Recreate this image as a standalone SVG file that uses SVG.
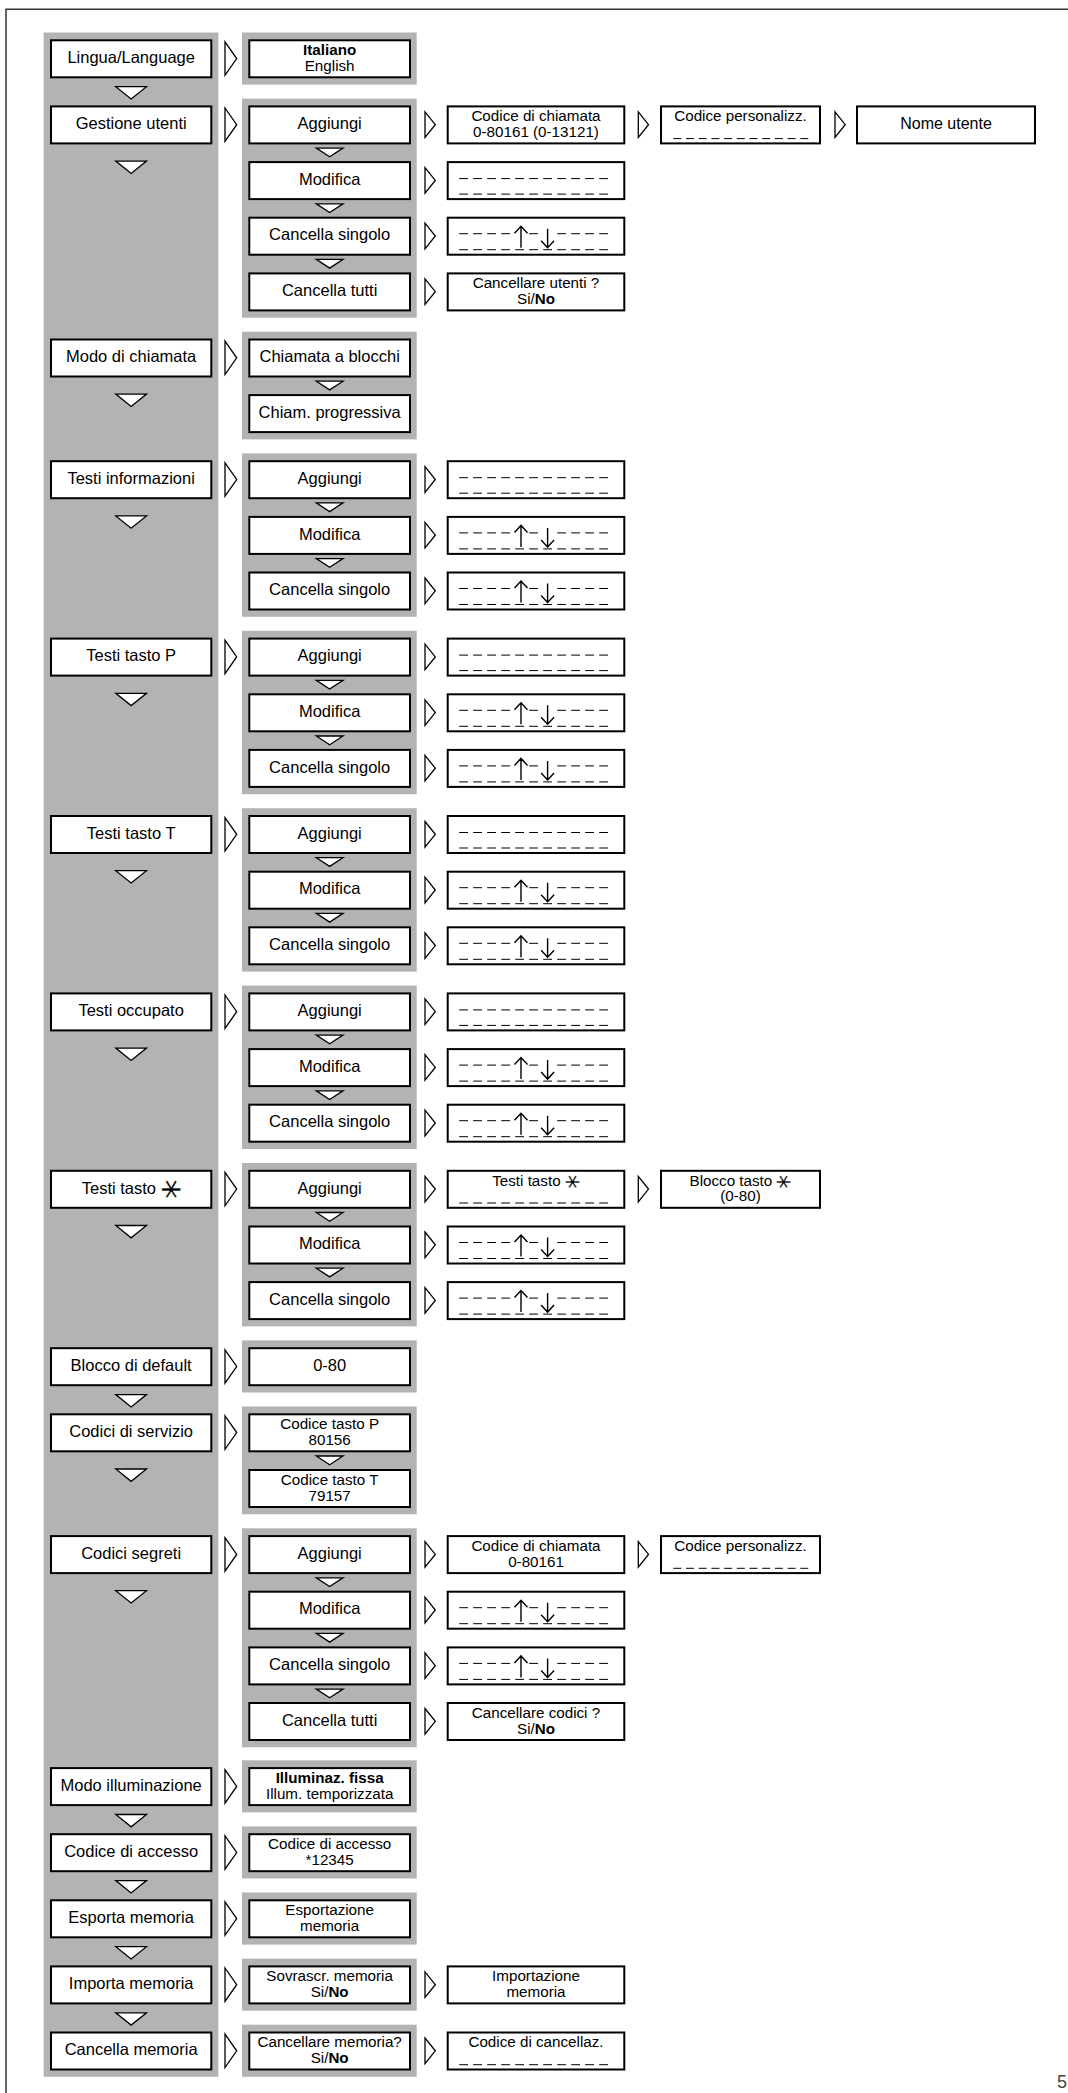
<svg xmlns="http://www.w3.org/2000/svg" width="1068" height="2093" viewBox="0 0 1068 2093">
<style>
.p{fill:#b3b3b3}
.bx{fill:#fff;stroke:#000;stroke-width:2}
.t{font-family:"Liberation Sans",Arial,"DejaVu Sans",sans-serif;font-size:16.5px;text-anchor:middle;fill:#000}
.s{font-size:15.2px}
.b{font-weight:bold}
.st{font-family:"DejaVu Sans",sans-serif;font-size:34px;stroke:#fff;stroke-width:0.6px}
.st2{font-family:"DejaVu Sans",sans-serif;font-size:25px;stroke:#fff;stroke-width:0.4px}
.tr{fill:#fff;stroke:#000;stroke-width:1.3;stroke-linejoin:miter}
.d{stroke:#000;stroke-width:1;stroke-dasharray:8.8 5.2;fill:none}
.d4{stroke:#000;stroke-width:1;stroke-dasharray:8 4.7;fill:none}
.da{stroke:#000;stroke-width:1;fill:none;stroke-dasharray:8.8 5.2 8.8 5.2 8.8 5.2 8.8 19.2 8.8 19.2 8.8 5.2 8.8 5.2 8.8 5.2 8.8 100}
.arw{fill:none;stroke:#000;stroke-width:1.4;stroke-linecap:butt;stroke-linejoin:miter}
.fr{fill:none;stroke:#333;stroke-width:1.5}
</style>
<defs>
<g id="dash2"><line class="d" x1="12.5" y1="17.5" x2="161.3" y2="17.5"/><line class="d" x1="12.5" y1="33" x2="161.3" y2="33"/></g>
<g id="updn"><line class="da" x1="12.5" y1="17" x2="161.3" y2="17"/><line class="d" x1="12.5" y1="33" x2="161.3" y2="33"/><path class="arw" d="M74.3 31 V9.5 M67.8 16.5 L74.3 9.5 L80.8 16.5 M100.9 12 V31 M94.4 24 L100.9 31 L107.4 24"/></g>
</defs>
<rect width="1068" height="2093" fill="#fff"/>
<path class="fr" d="M6 2093 V9.3 H1068"/>
<g id="panels">
<rect class="p" x="43.7" y="32.5" width="174.6" height="2044.3"/>
<rect class="p" x="242" y="32.5" width="174.7" height="52.1"/>
<rect class="p" x="242" y="98.6" width="174.7" height="219.1"/>
<rect class="p" x="242" y="331.7" width="174.7" height="107.7"/>
<rect class="p" x="242" y="453.4" width="174.7" height="163.4"/>
<rect class="p" x="242" y="630.8" width="174.7" height="163.4"/>
<rect class="p" x="242" y="808.2" width="174.7" height="163.4"/>
<rect class="p" x="242" y="985.6" width="174.7" height="163.4"/>
<rect class="p" x="242" y="1163.0" width="174.7" height="163.4"/>
<rect class="p" x="242" y="1340.4" width="174.7" height="52.1"/>
<rect class="p" x="242" y="1406.5" width="174.7" height="107.8"/>
<rect class="p" x="242" y="1528.3" width="174.7" height="219.0"/>
<rect class="p" x="242" y="1760.3" width="174.7" height="52.1"/>
<rect class="p" x="242" y="1826.4" width="174.7" height="52.1"/>
<rect class="p" x="242" y="1892.5" width="174.7" height="52.1"/>
<rect class="p" x="242" y="1958.6" width="174.7" height="52.1"/>
<rect class="p" x="242" y="2024.7" width="174.7" height="52.1"/>
</g>
<g id="connectors">
<polygon class="tr" points="225,41.9 236.7,58.6 225,75.3"/>
<polygon class="tr" points="225,108.0 236.7,124.7 225,141.4"/>
<polygon class="tr" points="225,341.1 236.7,357.8 225,374.5"/>
<polygon class="tr" points="225,462.8 236.7,479.5 225,496.2"/>
<polygon class="tr" points="225,640.2 236.7,656.9 225,673.6"/>
<polygon class="tr" points="225,817.6 236.7,834.3 225,851.0"/>
<polygon class="tr" points="225,995.0 236.7,1011.7 225,1028.4"/>
<polygon class="tr" points="225,1172.4 236.7,1189.1 225,1205.8"/>
<polygon class="tr" points="225,1349.8 236.7,1366.5 225,1383.2"/>
<polygon class="tr" points="225,1415.9 236.7,1432.6 225,1449.3"/>
<polygon class="tr" points="225,1537.7 236.7,1554.4 225,1571.1"/>
<polygon class="tr" points="225,1769.7 236.7,1786.4 225,1803.1"/>
<polygon class="tr" points="225,1835.8 236.7,1852.5 225,1869.2"/>
<polygon class="tr" points="225,1901.9 236.7,1918.6 225,1935.3"/>
<polygon class="tr" points="225,1968.0 236.7,1984.7 225,2001.4"/>
<polygon class="tr" points="225,2034.1 236.7,2050.8 225,2067.5"/>
<polygon class="tr" points="425,111.9 435.3,124.7 425,137.5"/>
<polygon class="tr" points="425,167.6 435.3,180.4 425,193.2"/>
<polygon class="tr" points="425,223.2 435.3,236.0 425,248.8"/>
<polygon class="tr" points="425,278.9 435.3,291.7 425,304.5"/>
<polygon class="tr" points="425,466.7 435.3,479.5 425,492.3"/>
<polygon class="tr" points="425,522.4 435.3,535.2 425,548.0"/>
<polygon class="tr" points="425,578.0 435.3,590.8 425,603.6"/>
<polygon class="tr" points="425,644.1 435.3,656.9 425,669.7"/>
<polygon class="tr" points="425,699.8 435.3,712.6 425,725.4"/>
<polygon class="tr" points="425,755.4 435.3,768.2 425,781.0"/>
<polygon class="tr" points="425,821.5 435.3,834.3 425,847.1"/>
<polygon class="tr" points="425,877.2 435.3,890.0 425,902.8"/>
<polygon class="tr" points="425,932.8 435.3,945.6 425,958.4"/>
<polygon class="tr" points="425,998.9 435.3,1011.7 425,1024.5"/>
<polygon class="tr" points="425,1054.6 435.3,1067.4 425,1080.2"/>
<polygon class="tr" points="425,1110.2 435.3,1123.0 425,1135.8"/>
<polygon class="tr" points="425,1176.3 435.3,1189.1 425,1201.9"/>
<polygon class="tr" points="425,1232.0 435.3,1244.8 425,1257.6"/>
<polygon class="tr" points="425,1287.6 435.3,1300.4 425,1313.2"/>
<polygon class="tr" points="425,1541.6 435.3,1554.4 425,1567.2"/>
<polygon class="tr" points="425,1597.2 435.3,1610.0 425,1622.8"/>
<polygon class="tr" points="425,1652.9 435.3,1665.7 425,1678.5"/>
<polygon class="tr" points="425,1708.5 435.3,1721.3 425,1734.1"/>
<polygon class="tr" points="425,1971.9 435.3,1984.7 425,1997.5"/>
<polygon class="tr" points="425,2038.0 435.3,2050.8 425,2063.6"/>
<polygon class="tr" points="638.3,111.9 648.5,124.7 638.3,137.5"/>
<polygon class="tr" points="835,111.9 845.2,124.7 835,137.5"/>
<polygon class="tr" points="638.3,1176.3 648.5,1189.1 638.3,1201.9"/>
<polygon class="tr" points="638.3,1541.6 648.5,1554.4 638.3,1567.2"/>
<polygon class="tr" points="115.8,86.7 146.5,86.7 131.15,99.0"/>
<polygon class="tr" points="115.8,161.1 146.5,161.1 131.15,173.4"/>
<polygon class="tr" points="115.8,394.1 146.5,394.1 131.15,406.4"/>
<polygon class="tr" points="115.8,515.9 146.5,515.9 131.15,528.2"/>
<polygon class="tr" points="115.8,693.3 146.5,693.3 131.15,705.6"/>
<polygon class="tr" points="115.8,870.7 146.5,870.7 131.15,883.0"/>
<polygon class="tr" points="115.8,1048.1 146.5,1048.1 131.15,1060.4"/>
<polygon class="tr" points="115.8,1225.5 146.5,1225.5 131.15,1237.8"/>
<polygon class="tr" points="115.8,1394.6 146.5,1394.6 131.15,1406.9"/>
<polygon class="tr" points="115.8,1469.0 146.5,1469.0 131.15,1481.3"/>
<polygon class="tr" points="115.8,1590.7 146.5,1590.7 131.15,1603.0"/>
<polygon class="tr" points="115.8,1814.5 146.5,1814.5 131.15,1826.8"/>
<polygon class="tr" points="115.8,1880.6 146.5,1880.6 131.15,1892.9"/>
<polygon class="tr" points="115.8,1946.7 146.5,1946.7 131.15,1959.0"/>
<polygon class="tr" points="115.8,2012.8 146.5,2012.8 131.15,2025.1"/>
<polygon class="tr" points="316.3,148.1 343,148.1 329.65,156.8"/>
<polygon class="tr" points="316.3,203.8 343,203.8 329.65,212.5"/>
<polygon class="tr" points="316.3,259.4 343,259.4 329.65,268.1"/>
<polygon class="tr" points="316.3,381.2 343,381.2 329.65,389.9"/>
<polygon class="tr" points="316.3,502.9 343,502.9 329.65,511.6"/>
<polygon class="tr" points="316.3,558.6 343,558.6 329.65,567.3"/>
<polygon class="tr" points="316.3,680.3 343,680.3 329.65,689.0"/>
<polygon class="tr" points="316.3,736.0 343,736.0 329.65,744.7"/>
<polygon class="tr" points="316.3,857.7 343,857.7 329.65,866.4"/>
<polygon class="tr" points="316.3,913.4 343,913.4 329.65,922.1"/>
<polygon class="tr" points="316.3,1035.1 343,1035.1 329.65,1043.8"/>
<polygon class="tr" points="316.3,1090.8 343,1090.8 329.65,1099.5"/>
<polygon class="tr" points="316.3,1212.5 343,1212.5 329.65,1221.2"/>
<polygon class="tr" points="316.3,1268.2 343,1268.2 329.65,1276.9"/>
<polygon class="tr" points="316.3,1456.0 343,1456.0 329.65,1464.7"/>
<polygon class="tr" points="316.3,1577.8 343,1577.8 329.65,1586.5"/>
<polygon class="tr" points="316.3,1633.4 343,1633.4 329.65,1642.1"/>
<polygon class="tr" points="316.3,1689.1 343,1689.1 329.65,1697.8"/>
</g>
<g id="m-lingua"><rect class="bx" x="51" y="40.3" width="160.3" height="37"/><text class="t" x="131.15" y="63.0">Lingua/Language</text></g>
<g id="m-gestione"><rect class="bx" x="51" y="106.4" width="160.3" height="37"/><text class="t" x="131.15" y="129.1">Gestione utenti</text></g>
<g id="m-modo"><rect class="bx" x="51" y="339.5" width="160.3" height="37"/><text class="t" x="131.15" y="362.2">Modo di chiamata</text></g>
<g id="m-testi-info"><rect class="bx" x="51" y="461.2" width="160.3" height="37"/><text class="t" x="131.15" y="483.9">Testi informazioni</text></g>
<g id="m-testi-p"><rect class="bx" x="51" y="638.6" width="160.3" height="37"/><text class="t" x="131.15" y="661.3">Testi tasto P</text></g>
<g id="m-testi-t"><rect class="bx" x="51" y="816.0" width="160.3" height="37"/><text class="t" x="131.15" y="838.7">Testi tasto T</text></g>
<g id="m-testi-occ"><rect class="bx" x="51" y="993.4" width="160.3" height="37"/><text class="t" x="131.15" y="1016.1">Testi occupato</text></g>
<g id="m-testi-star"><rect class="bx" x="51" y="1170.8" width="160.3" height="37"/><text class="t" x="131.15" y="1193.5">Testi tasto <tspan class="st" dy="4.5">⚹</tspan></text></g>
<g id="m-blocco"><rect class="bx" x="51" y="1348.2" width="160.3" height="37"/><text class="t" x="131.15" y="1370.9">Blocco di default</text></g>
<g id="m-servizio"><rect class="bx" x="51" y="1414.3" width="160.3" height="37"/><text class="t" x="131.15" y="1437.0">Codici di servizio</text></g>
<g id="m-segreti"><rect class="bx" x="51" y="1536.1" width="160.3" height="37"/><text class="t" x="131.15" y="1558.8">Codici segreti</text></g>
<g id="m-illum"><rect class="bx" x="51" y="1768.1" width="160.3" height="37"/><text class="t" x="131.15" y="1790.8">Modo illuminazione</text></g>
<g id="m-accesso"><rect class="bx" x="51" y="1834.2" width="160.3" height="37"/><text class="t" x="131.15" y="1856.9">Codice di accesso</text></g>
<g id="m-esporta"><rect class="bx" x="51" y="1900.3" width="160.3" height="37"/><text class="t" x="131.15" y="1923.0">Esporta memoria</text></g>
<g id="m-importa"><rect class="bx" x="51" y="1966.4" width="160.3" height="37"/><text class="t" x="131.15" y="1989.1">Importa memoria</text></g>
<g id="m-cancella"><rect class="bx" x="51" y="2032.5" width="160.3" height="37"/><text class="t" x="131.15" y="2055.2">Cancella memoria</text></g>
<g id="s-lingua"><rect class="bx" x="249.3" y="40.3" width="160.7" height="37"/><text class="t s b" x="329.65" y="55.1">Italiano</text><text class="t s" x="329.65" y="70.8">English</text></g>
<g id="s-gest-agg"><rect class="bx" x="249.3" y="106.4" width="160.7" height="37"/><text class="t" x="329.65" y="129.1">Aggiungi</text></g>
<g id="s-gest-mod"><rect class="bx" x="249.3" y="162.1" width="160.7" height="37"/><text class="t" x="329.65" y="184.8">Modifica</text></g>
<g id="s-gest-cs"><rect class="bx" x="249.3" y="217.7" width="160.7" height="37"/><text class="t" x="329.65" y="240.4">Cancella singolo</text></g>
<g id="s-gest-ct"><rect class="bx" x="249.3" y="273.4" width="160.7" height="37"/><text class="t" x="329.65" y="296.1">Cancella tutti</text></g>
<g id="s-modo-bl"><rect class="bx" x="249.3" y="339.5" width="160.7" height="37"/><text class="t" x="329.65" y="362.2">Chiamata a blocchi</text></g>
<g id="s-modo-pr"><rect class="bx" x="249.3" y="395.1" width="160.7" height="37"/><text class="t" x="329.65" y="417.8">Chiam. progressiva</text></g>
<g id="s-info-agg"><rect class="bx" x="249.3" y="461.2" width="160.7" height="37"/><text class="t" x="329.65" y="483.9">Aggiungi</text></g>
<g id="s-info-mod"><rect class="bx" x="249.3" y="516.9" width="160.7" height="37"/><text class="t" x="329.65" y="539.6">Modifica</text></g>
<g id="s-info-cs"><rect class="bx" x="249.3" y="572.5" width="160.7" height="37"/><text class="t" x="329.65" y="595.2">Cancella singolo</text></g>
<g id="s-p-agg"><rect class="bx" x="249.3" y="638.6" width="160.7" height="37"/><text class="t" x="329.65" y="661.3">Aggiungi</text></g>
<g id="s-p-mod"><rect class="bx" x="249.3" y="694.3" width="160.7" height="37"/><text class="t" x="329.65" y="717.0">Modifica</text></g>
<g id="s-p-cs"><rect class="bx" x="249.3" y="749.9" width="160.7" height="37"/><text class="t" x="329.65" y="772.6">Cancella singolo</text></g>
<g id="s-t-agg"><rect class="bx" x="249.3" y="816.0" width="160.7" height="37"/><text class="t" x="329.65" y="838.7">Aggiungi</text></g>
<g id="s-t-mod"><rect class="bx" x="249.3" y="871.7" width="160.7" height="37"/><text class="t" x="329.65" y="894.4">Modifica</text></g>
<g id="s-t-cs"><rect class="bx" x="249.3" y="927.3" width="160.7" height="37"/><text class="t" x="329.65" y="950.0">Cancella singolo</text></g>
<g id="s-occ-agg"><rect class="bx" x="249.3" y="993.4" width="160.7" height="37"/><text class="t" x="329.65" y="1016.1">Aggiungi</text></g>
<g id="s-occ-mod"><rect class="bx" x="249.3" y="1049.1" width="160.7" height="37"/><text class="t" x="329.65" y="1071.8">Modifica</text></g>
<g id="s-occ-cs"><rect class="bx" x="249.3" y="1104.7" width="160.7" height="37"/><text class="t" x="329.65" y="1127.4">Cancella singolo</text></g>
<g id="s-star-agg"><rect class="bx" x="249.3" y="1170.8" width="160.7" height="37"/><text class="t" x="329.65" y="1193.5">Aggiungi</text></g>
<g id="s-star-mod"><rect class="bx" x="249.3" y="1226.5" width="160.7" height="37"/><text class="t" x="329.65" y="1249.2">Modifica</text></g>
<g id="s-star-cs"><rect class="bx" x="249.3" y="1282.1" width="160.7" height="37"/><text class="t" x="329.65" y="1304.8">Cancella singolo</text></g>
<g id="s-blocco"><rect class="bx" x="249.3" y="1348.2" width="160.7" height="37"/><text class="t" x="329.65" y="1370.9">0-80</text></g>
<g id="s-serv-p"><rect class="bx" x="249.3" y="1414.3" width="160.7" height="37"/><text class="t s" x="329.65" y="1429.1">Codice tasto P</text><text class="t s" x="329.65" y="1444.8">80156</text></g>
<g id="s-serv-t"><rect class="bx" x="249.3" y="1470.0" width="160.7" height="37"/><text class="t s" x="329.65" y="1484.8">Codice tasto T</text><text class="t s" x="329.65" y="1500.5">79157</text></g>
<g id="s-seg-agg"><rect class="bx" x="249.3" y="1536.1" width="160.7" height="37"/><text class="t" x="329.65" y="1558.8">Aggiungi</text></g>
<g id="s-seg-mod"><rect class="bx" x="249.3" y="1591.7" width="160.7" height="37"/><text class="t" x="329.65" y="1614.4">Modifica</text></g>
<g id="s-seg-cs"><rect class="bx" x="249.3" y="1647.4" width="160.7" height="37"/><text class="t" x="329.65" y="1670.1">Cancella singolo</text></g>
<g id="s-seg-ct"><rect class="bx" x="249.3" y="1703.0" width="160.7" height="37"/><text class="t" x="329.65" y="1725.7">Cancella tutti</text></g>
<g id="s-illum"><rect class="bx" x="249.3" y="1768.1" width="160.7" height="37"/><text class="t s b" x="329.65" y="1782.9">Illuminaz. fissa</text><text class="t s" x="329.65" y="1798.6">Illum. temporizzata</text></g>
<g id="s-accesso"><rect class="bx" x="249.3" y="1834.2" width="160.7" height="37"/><text class="t s" x="329.65" y="1849.0">Codice di accesso</text><text class="t s" x="329.65" y="1864.7">*12345</text></g>
<g id="s-esporta"><rect class="bx" x="249.3" y="1900.3" width="160.7" height="37"/><text class="t s" x="329.65" y="1915.1">Esportazione</text><text class="t s" x="329.65" y="1930.8">memoria</text></g>
<g id="s-importa"><rect class="bx" x="249.3" y="1966.4" width="160.7" height="37"/><text class="t s" x="329.65" y="1981.2">Sovrascr. memoria</text><text class="t s" x="329.65" y="1996.9">Si/<tspan class="b">No</tspan></text></g>
<g id="s-cancella"><rect class="bx" x="249.3" y="2032.5" width="160.7" height="37"/><text class="t s" x="329.65" y="2047.3">Cancellare memoria?</text><text class="t s" x="329.65" y="2063.0">Si/<tspan class="b">No</tspan></text></g>
<g id="c-gest-codice"><rect class="bx" x="447.7" y="106.4" width="176.6" height="37"/><text class="t s" x="536" y="121.2">Codice di chiamata</text><text class="t s" x="536" y="136.9">0-80161 (0-13121)</text></g>
<g id="c-gest-pers"><rect class="bx" x="661" y="106.4" width="159" height="37"/><text class="t s" x="740.5" y="121.2">Codice personalizz.</text><line class="d4" x1="673.3" y1="138.6" x2="808.3" y2="138.6"/></g>
<g id="c-gest-nome"><rect class="bx" x="857" y="106.4" width="178" height="37"/><text class="t" x="946" y="129.1" style="font-size:16px">Nome utente</text></g>
<g id="c-gest-mod"><rect class="bx" x="447.7" y="162.1" width="176.6" height="37"/><use href="#dash2" x="446.7" y="161.1"/></g>
<g id="c-gest-cs"><rect class="bx" x="447.7" y="217.7" width="176.6" height="37"/><use href="#updn" x="446.7" y="216.7"/></g>
<g id="c-gest-ct"><rect class="bx" x="447.7" y="273.4" width="176.6" height="37"/><text class="t s" x="536" y="288.2">Cancellare utenti ?</text><text class="t s" x="536" y="303.9">Si/<tspan class="b">No</tspan></text></g>
<g id="c-info-agg"><rect class="bx" x="447.7" y="461.2" width="176.6" height="37"/><use href="#dash2" x="446.7" y="460.2"/></g>
<g id="c-info-mod"><rect class="bx" x="447.7" y="516.9" width="176.6" height="37"/><use href="#updn" x="446.7" y="515.9"/></g>
<g id="c-info-cs"><rect class="bx" x="447.7" y="572.5" width="176.6" height="37"/><use href="#updn" x="446.7" y="571.5"/></g>
<g id="c-p-agg"><rect class="bx" x="447.7" y="638.6" width="176.6" height="37"/><use href="#dash2" x="446.7" y="637.6"/></g>
<g id="c-p-mod"><rect class="bx" x="447.7" y="694.3" width="176.6" height="37"/><use href="#updn" x="446.7" y="693.3"/></g>
<g id="c-p-cs"><rect class="bx" x="447.7" y="749.9" width="176.6" height="37"/><use href="#updn" x="446.7" y="748.9"/></g>
<g id="c-t-agg"><rect class="bx" x="447.7" y="816.0" width="176.6" height="37"/><use href="#dash2" x="446.7" y="815.0"/></g>
<g id="c-t-mod"><rect class="bx" x="447.7" y="871.7" width="176.6" height="37"/><use href="#updn" x="446.7" y="870.7"/></g>
<g id="c-t-cs"><rect class="bx" x="447.7" y="927.3" width="176.6" height="37"/><use href="#updn" x="446.7" y="926.3"/></g>
<g id="c-occ-agg"><rect class="bx" x="447.7" y="993.4" width="176.6" height="37"/><use href="#dash2" x="446.7" y="992.4"/></g>
<g id="c-occ-mod"><rect class="bx" x="447.7" y="1049.1" width="176.6" height="37"/><use href="#updn" x="446.7" y="1048.1"/></g>
<g id="c-occ-cs"><rect class="bx" x="447.7" y="1104.7" width="176.6" height="37"/><use href="#updn" x="446.7" y="1103.7"/></g>
<g id="c-star-agg"><rect class="bx" x="447.7" y="1170.8" width="176.6" height="37"/><text class="t s" x="536" y="1185.6">Testi tasto <tspan class="st2" dy="2">⚹</tspan></text><line class="d" x1="459.2" y1="1203.0" x2="608" y2="1203.0"/></g>
<g id="c-star-blocco"><rect class="bx" x="661" y="1170.8" width="159" height="37"/><text class="t s" x="740.5" y="1185.6">Blocco tasto <tspan class="st2" dy="2">⚹</tspan></text><text class="t s" x="740.5" y="1201.3">(0-80)</text></g>
<g id="c-star-mod"><rect class="bx" x="447.7" y="1226.5" width="176.6" height="37"/><use href="#updn" x="446.7" y="1225.5"/></g>
<g id="c-star-cs"><rect class="bx" x="447.7" y="1282.1" width="176.6" height="37"/><use href="#updn" x="446.7" y="1281.1"/></g>
<g id="c-seg-codice"><rect class="bx" x="447.7" y="1536.1" width="176.6" height="37"/><text class="t s" x="536" y="1550.9">Codice di chiamata</text><text class="t s" x="536" y="1566.6">0-80161</text></g>
<g id="c-seg-pers"><rect class="bx" x="661" y="1536.1" width="159" height="37"/><text class="t s" x="740.5" y="1550.9">Codice personalizz.</text><line class="d4" x1="673.3" y1="1568.3" x2="808.3" y2="1568.3"/></g>
<g id="c-seg-mod"><rect class="bx" x="447.7" y="1591.7" width="176.6" height="37"/><use href="#updn" x="446.7" y="1590.7"/></g>
<g id="c-seg-cs"><rect class="bx" x="447.7" y="1647.4" width="176.6" height="37"/><use href="#updn" x="446.7" y="1646.4"/></g>
<g id="c-seg-ct"><rect class="bx" x="447.7" y="1703.0" width="176.6" height="37"/><text class="t s" x="536" y="1717.8">Cancellare codici ?</text><text class="t s" x="536" y="1733.5">Si/<tspan class="b">No</tspan></text></g>
<g id="c-importazione"><rect class="bx" x="447.7" y="1966.4" width="176.6" height="37"/><text class="t s" x="536" y="1981.2">Importazione</text><text class="t s" x="536" y="1996.9">memoria</text></g>
<g id="c-cancellaz"><rect class="bx" x="447.7" y="2032.5" width="176.6" height="37"/><text class="t s" x="536" y="2047.3">Codice di cancellaz.</text><line class="d" x1="459.2" y1="2064.7" x2="608" y2="2064.7"/></g>
<text x="1057" y="2088" font-family="Liberation Sans, Arial, sans-serif" font-size="18" fill="#444">5</text>
</svg>
